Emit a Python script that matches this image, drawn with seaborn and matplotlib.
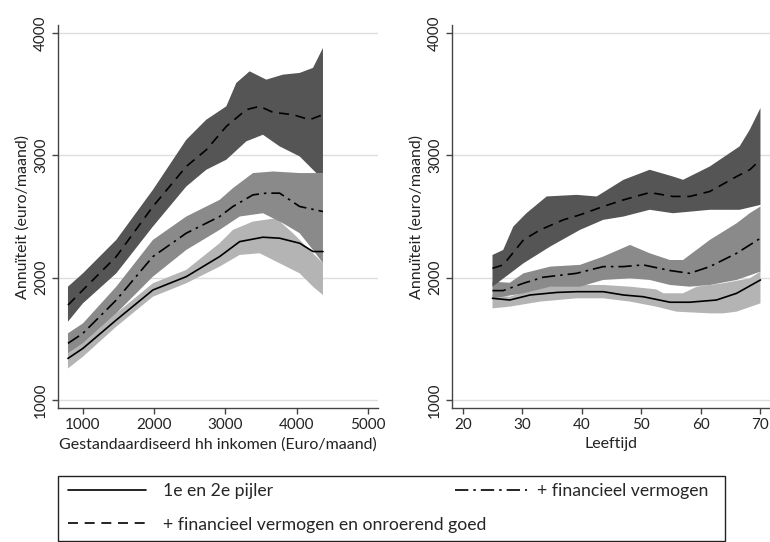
import numpy as np
import pandas as pd
import seaborn as sns
import matplotlib.pyplot as plt
from matplotlib.lines import Line2D
from matplotlib.patches import Rectangle

# ---- left panel: income (Euro/maand) ----
inc_dark_x = [790, 1000, 1468, 1982, 2450, 2731, 3012, 3292, 3480, 3667, 3947, 4181, 4368]
inc_dark_y = [1777, 1900, 2173, 2582, 2909, 3045, 3236, 3373, 3400, 3351, 3332, 3291, 3332]
inc_dark_up_x = [790, 1000, 1468, 1982, 2450, 2731, 3012, 3152, 3339, 3573, 3807, 4041, 4228, 4368]
inc_dark_up_y = [1927, 2036, 2309, 2718, 3127, 3291, 3400, 3591, 3686, 3618, 3659, 3673, 3714, 3877]
inc_dark_lo_x = [790, 1000, 1468, 1982, 2450, 2731, 3012, 3292, 3526, 3760, 4041, 4275, 4368]
inc_dark_lo_y = [1641, 1791, 2036, 2418, 2745, 2882, 2964, 3114, 3168, 3073, 2991, 2855, 2855]

inc_mid_x = [790, 1000, 1468, 1982, 2450, 2918, 3105, 3386, 3573, 3760, 4041, 4368]
inc_mid_y = [1464, 1546, 1818, 2173, 2364, 2500, 2582, 2677, 2691, 2691, 2582, 2541]
inc_mid_up_x = [790, 1000, 1468, 1982, 2450, 2918, 3105, 3386, 3667, 4041, 4368]
inc_mid_up_y = [1546, 1627, 1927, 2309, 2500, 2636, 2732, 2855, 2868, 2855, 2855]
inc_mid_lo_x = [790, 1000, 1468, 1982, 2450, 2918, 3199, 3526, 3807, 4041, 4228, 4368]
inc_mid_lo_y = [1382, 1464, 1709, 2009, 2227, 2391, 2500, 2527, 2445, 2364, 2227, 2118]

inc_low_x = [790, 1000, 1468, 1982, 2450, 2918, 3199, 3526, 3760, 4041, 4228, 4368]
inc_low_y = [1341, 1423, 1655, 1900, 2009, 2173, 2295, 2331, 2323, 2282, 2214, 2214]
inc_low_up_x = [790, 1000, 1468, 1982, 2450, 2918, 3105, 3386, 3713, 3947, 4228, 4368]
inc_low_up_y = [1382, 1464, 1709, 1955, 2064, 2282, 2391, 2459, 2486, 2364, 2200, 2118]
inc_low_lo_x = [790, 1000, 1468, 1982, 2450, 2918, 3199, 3480, 3760, 4041, 4228, 4368]
inc_low_lo_y = [1259, 1355, 1600, 1845, 1955, 2091, 2186, 2200, 2118, 2036, 1927, 1859]

# ---- right panel: age (Leeftijd) ----
age_dark_x = [25.0, 26.8, 30.2, 33.0, 36.9, 39.7, 43.6, 47.0, 51.4, 55.3, 58.1, 61.5, 66.0, 68.2, 70.0]
age_dark_y = [2077, 2105, 2309, 2391, 2473, 2514, 2582, 2636, 2696, 2664, 2664, 2705, 2827, 2882, 2964]
age_dark_up_x = [25.0, 26.8, 28.5, 30.7, 34.1, 39.1, 42.5, 47.0, 51.4, 55.3, 57.0, 61.5, 66.5, 68.2, 70.0]
age_dark_up_y = [2186, 2227, 2418, 2527, 2664, 2677, 2664, 2800, 2882, 2827, 2800, 2909, 3073, 3209, 3386]
age_dark_lo_x = [25.0, 30.2, 34.7, 39.7, 43.6, 47.0, 51.4, 55.3, 61.5, 66.5, 70.0]
age_dark_lo_y = [1927, 2118, 2255, 2391, 2473, 2500, 2555, 2527, 2555, 2555, 2595]

age_mid_x = [25.0, 26.8, 30.2, 33.5, 39.1, 43.6, 47.0, 50.3, 54.8, 58.1, 61.5, 66.0, 70.0]
age_mid_y = [1895, 1895, 1955, 2004, 2036, 2091, 2091, 2105, 2059, 2036, 2091, 2200, 2323]
age_mid_up_x = [25.0, 27.9, 30.2, 34.7, 39.7, 43.6, 48.1, 51.4, 54.8, 57.0, 61.5, 66.0, 68.2, 70.0]
age_mid_up_y = [1968, 1959, 2036, 2091, 2105, 2173, 2268, 2200, 2145, 2145, 2309, 2445, 2527, 2582]
age_mid_lo_x = [25.0, 30.2, 34.7, 39.7, 43.6, 48.1, 51.4, 54.8, 58.1, 61.5, 66.0, 70.0]
age_mid_lo_y = [1832, 1873, 1927, 1927, 1982, 1995, 1982, 1941, 1927, 1941, 1982, 2050]

age_low_x = [25.0, 27.9, 31.3, 35.8, 39.1, 43.6, 47.0, 50.3, 54.8, 58.1, 62.6, 66.0, 70.0]
age_low_y = [1832, 1818, 1859, 1880, 1886, 1886, 1859, 1845, 1800, 1800, 1818, 1873, 1982]
age_low_up_x = [25.0, 27.9, 33.0, 39.1, 43.6, 48.1, 52.5, 53.7, 57.0, 59.3, 63.7, 68.2, 70.0]
age_low_up_y = [1859, 1845, 1927, 1941, 1941, 1927, 1905, 1873, 1873, 1927, 1955, 1995, 2050]
age_low_lo_x = [25.0, 27.9, 33.0, 39.1, 43.6, 48.1, 52.5, 55.9, 61.5, 63.7, 66.0, 70.0]
age_low_lo_y = [1750, 1764, 1805, 1832, 1832, 1805, 1764, 1723, 1709, 1709, 1723, 1791]

series_names = ["1e en 2e pijler", "+ financieel vermogen",
                "+ financieel vermogen en onroerend goed"]
band_colors = ["#b4b4b4", "#8a8a8a", "#555555"]
line_styles = ["-", (0, (8, 3, 1.5, 3)), (0, (6, 4))]

sns.set_theme(style="white")
plt.rcParams["font.family"] = ["Lato", "DejaVu Sans"]

fig = plt.figure(figsize=(7.7, 5.42), dpi=100)
ax1 = fig.add_axes([0.0753, 0.247, 0.4156, 0.707])
ax2 = fig.add_axes([0.587, 0.247, 0.413, 0.707])


def band(ax, ux, uy, lx, ly, color):
    px = np.concatenate([ux, lx[::-1]])
    py = np.concatenate([uy, ly[::-1]])
    ax.fill(px, py, color=color, lw=0)


def panel(ax, bands, lines):
    for (ux, uy, lx, ly), c in zip(bands, band_colors):
        band(ax, ux, uy, lx, ly, c)
    for (x, y), ls in zip(lines, line_styles):
        df = pd.DataFrame({"x": x, "y": y})
        sns.lineplot(data=df, x="x", y="y", ax=ax, color="black", lw=1.2,
                     linestyle=ls, estimator=None, sort=True)
    ax.set_ylim(935, 4065)
    ax.set_yticks([1000, 2000, 3000, 4000])
    ax.yaxis.grid(True, color="#dedede", lw=1)
    ax.xaxis.grid(False)
    for s in ["top", "right"]:
        ax.spines[s].set_visible(False)
    for s in ["left", "bottom"]:
        ax.spines[s].set_color("#444444")
        ax.spines[s].set_linewidth(1)
    ax.tick_params(axis="both", which="both", direction="out", length=4,
                   width=1, color="#444444", labelsize=11, labelcolor="#222222",
                   left=True, bottom=True, pad=3)
    for lab in ax.get_yticklabels():
        lab.set_rotation(90)
        lab.set_va("center")
    ax.set_ylabel("Annuïteit (euro/maand)", fontsize=11.5, color="#222222", labelpad=3)
    ax.set_axisbelow(True)


panel(ax1,
      [(inc_low_up_x, inc_low_up_y, inc_low_lo_x, inc_low_lo_y),
       (inc_mid_up_x, inc_mid_up_y, inc_mid_lo_x, inc_mid_lo_y),
       (inc_dark_up_x, inc_dark_up_y, inc_dark_lo_x, inc_dark_lo_y)],
      [(inc_low_x, inc_low_y), (inc_mid_x, inc_mid_y), (inc_dark_x, inc_dark_y)])
ax1.set_xlim(650, 5140)
ax1.set_xticks([1000, 2000, 3000, 4000, 5000])
ax1.set_xlabel("Gestandaardiseerd hh inkomen (Euro/maand)", fontsize=11.5,
               color="#222222", labelpad=4)

panel(ax2,
      [(age_low_up_x, age_low_up_y, age_low_lo_x, age_low_lo_y),
       (age_mid_up_x, age_mid_up_y, age_mid_lo_x, age_mid_lo_y),
       (age_dark_up_x, age_dark_up_y, age_dark_lo_x, age_dark_lo_y)],
      [(age_low_x, age_low_y), (age_mid_x, age_mid_y), (age_dark_x, age_dark_y)])
ax2.set_xlim(18.2, 71.6)
ax2.set_xticks([20, 30, 40, 50, 60, 70])
ax2.set_xlabel("Leeftijd", fontsize=11.5, color="#222222", labelpad=4)

# legend box (Stata-style: second column overlaps the long second-row label)
fig.add_artist(Rectangle((58 / 770, 1 / 542), 667 / 770, 65 / 542,
                         transform=fig.transFigure, fill=False,
                         edgecolor="#222222", lw=1.0))
leg_prop = {"size": 12.7}
h_solid = Line2D([], [], color="black", lw=1.2, linestyle=line_styles[0])
h_dash = Line2D([], [], color="black", lw=1.2, linestyle=line_styles[2])
h_dd = Line2D([], [], color="black", lw=1.2, linestyle=line_styles[1])
leg1 = fig.legend([h_solid, h_dash], [series_names[0], series_names[2]],
                  loc="upper left", bbox_to_anchor=(68 / 770, 59 / 542),
                  frameon=False, borderpad=0, borderaxespad=0,
                  handlelength=4.4, handletextpad=1.0, labelspacing=1.0,
                  prop=leg_prop)
leg2 = fig.legend([h_dd], [series_names[1]],
                  loc="upper left", bbox_to_anchor=(455 / 770, 59 / 542),
                  frameon=False, borderpad=0, borderaxespad=0,
                  handlelength=4.1, handletextpad=0.55, prop=leg_prop)

fig.savefig("out.png", dpi=100)
